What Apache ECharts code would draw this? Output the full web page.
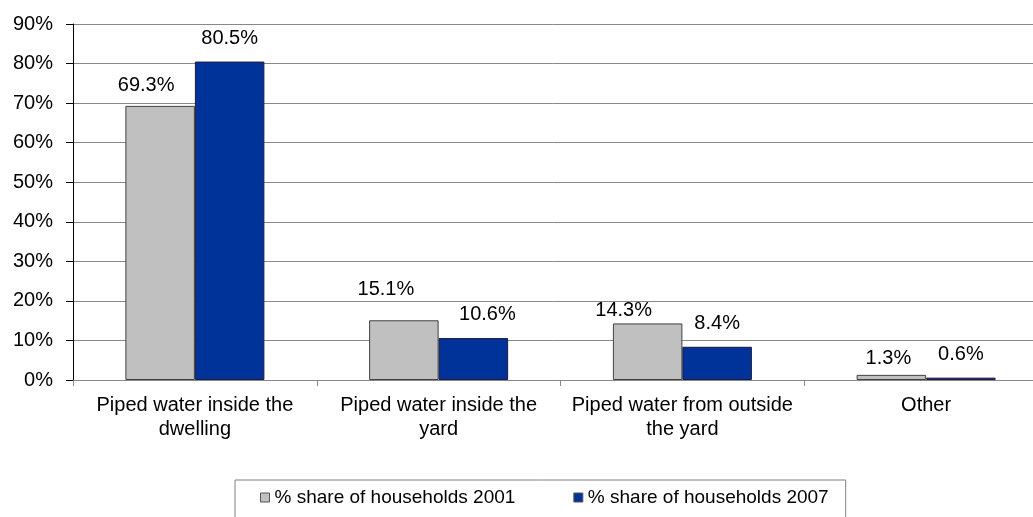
<!DOCTYPE html>
<html>
<head>
<meta charset="utf-8">
<script src="https://cdn.jsdelivr.net/npm/echarts@6/dist/echarts.min.js"></script>
<style>
html,body{margin:0;padding:0;background:#fff;}
#chart{width:1033px;height:517px;}
</style>
</head>
<body>
<div id="chart"></div>
<script>
const categories = [
  "Piped water inside the\ndwelling",
  "Piped water inside the\nyard",
  "Piped water from outside\nthe yard",
  "Other"
];
const seriesNames = ["% share of households 2001", "% share of households 2007"];
const share2001 = [69.3, 15.1, 14.3, 1.3];
const share2007 = [80.5, 10.6, 8.4, 0.6];
const yTicks = { min: 0, max: 90, interval: 10 };

// label placement tweaks (style only)
const labelOffsets2001 = [[-14, -10], [-18, -21], [-24, -3], [-3, -6]];
const labelOffsets2007 = [[0, -13], [14, -14], [0, -13], [0, -13]];

const FONT = "'Liberation Sans', Arial, sans-serif";

function buildData(vals, offs) {
  return vals.map((v, i) => ({ value: v, label: { offset: offs[i] } }));
}

const chart = echarts.init(document.getElementById('chart'), null, { renderer: 'canvas' });
chart.setOption({
  animation: false,
  backgroundColor: '#fff',
  textStyle: { fontFamily: FONT },
  grid: { left: 73, top: 24, bottom: 137, width: 975, containLabel: false, outerBoundsMode: 'none' },
  legend: {
    data: seriesNames,
    left: 235,
    top: 480,
    icon: 'rect',
    itemWidth: 9,
    itemHeight: 9,
    itemGap: 58,
    padding: [8, 17, 12, 25],
    borderColor: '#808080',
    borderWidth: 1,
    itemStyle: { borderColor: '#555', borderWidth: 1 },
    textStyle: { fontFamily: FONT, fontSize: 19, color: '#000' }
  },
  xAxis: {
    type: 'category',
    data: categories,
    axisLine: { lineStyle: { color: '#888', width: 1 } },
    axisTick: { show: true, length: 6, lineStyle: { color: '#888' } },
    axisLabel: {
      interval: 0,
      margin: 13,
      fontFamily: FONT,
      fontSize: 20,
      lineHeight: 24,
      color: '#000'
    }
  },
  yAxis: {
    type: 'value',
    min: yTicks.min,
    max: yTicks.max,
    interval: yTicks.interval,
    axisLine: { show: true, lineStyle: { color: '#000', width: 1 } },
    axisTick: { show: true, length: 7, lineStyle: { color: '#000' } },
    splitLine: { show: true, lineStyle: { color: '#888', width: 1 } },
    axisLabel: {
      formatter: '{value}%',
      margin: 20,
      fontFamily: FONT,
      fontSize: 20,
      color: '#000'
    }
  },
  series: [
    {
      name: seriesNames[0],
      type: 'bar',
      data: buildData(share2001, labelOffsets2001),
      barWidth: 69.5,
      barGap: '0%',
      itemStyle: { color: '#C0C0C0', borderColor: '#404040', borderWidth: 1 },
      label: {
        show: true, position: 'top', distance: 0,
        formatter: p => p.value.toFixed(1) + '%',
        fontFamily: FONT, fontSize: 20, color: '#000'
      }
    },
    {
      name: seriesNames[1],
      type: 'bar',
      data: buildData(share2007, labelOffsets2007),
      barWidth: 69.5,
      barGap: '0%',
      itemStyle: { color: '#003399', borderColor: '#1a1a40', borderWidth: 1 },
      label: {
        show: true, position: 'top', distance: 0,
        formatter: p => p.value.toFixed(1) + '%',
        fontFamily: FONT, fontSize: 20, color: '#000'
      }
    }
  ]
});
</script>
</body>
</html>
